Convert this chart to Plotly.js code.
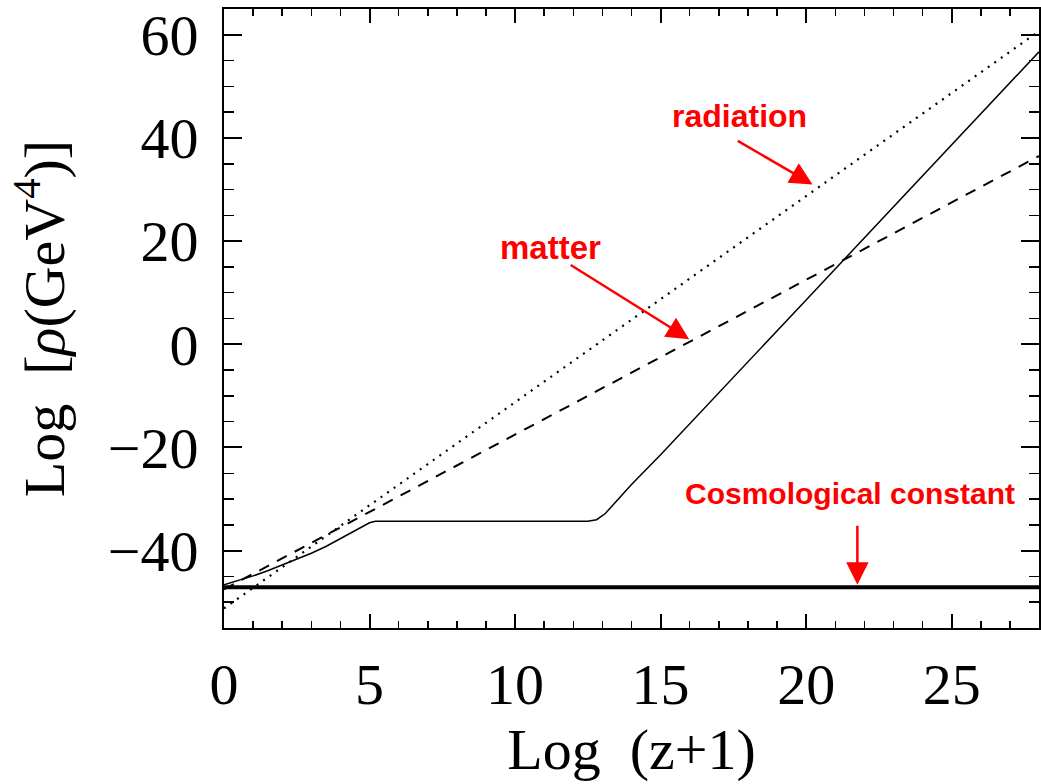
<!DOCTYPE html>
<html>
<head>
<meta charset="utf-8">
<script src="https://cdn.plot.ly/plotly-3.0.1.min.js"></script>
<style>html,body{margin:0;padding:0;background:#fff;}#chart{width:1041px;height:784px;}</style>
</head>
<body>
<div id="chart"></div>
<script>
// Values
const xRadiation = [0, 5, 10, 15, 20, 25, 28];
const yRadiation = [-51.2, -31.2, -11.2, 8.7, 28.8, 48.8, 60.7];

const xMatter = [0, 5, 10, 15, 20, 25, 28];
const yMatter = [-47.5, -32.5, -17.5, -2.5, 12.5, 27.5, 36.5];

const xQuint = [0, 0.5, 1, 1.5, 2, 2.5, 3, 3.5, 4, 4.5, 5, 5.2, 8, 10, 12.5, 12.8, 13.1, 14, 15, 20, 25, 28];
const yQuint = [-46.6, -45.8, -44.9, -43.9, -42.8, -41.7, -40.5, -39.2, -37.7, -36.1, -34.6, -34.3, -34.3, -34.3, -34.3, -34.0, -32.8, -27.2, -21.4, 8.6, 38.6, 56.7];

const xLambda = [0, 28];
const yLambda = [-47.1, -47.1];

const xTickVals = [0, 5, 10, 15, 20, 25];
const yTickVals = [-40, -20, 0, 20, 40, 60];

const labelTexts = ["radiation", "matter", "Cosmological constant"];

const serif = "Liberation Serif, DejaVu Serif, serif";
const sans = "Liberation Sans, Arial, sans-serif";
const NB = "\u00a0";

const traces = [
  {x: xRadiation, y: yRadiation, mode: 'lines', line: {color: 'black', width: 2.2, dash: '2px,6px'}, hoverinfo: 'skip'},
  {x: xMatter, y: yMatter, mode: 'lines', line: {color: 'black', width: 2, dash: '11px,9px'}, hoverinfo: 'skip'},
  {x: xQuint, y: yQuint, mode: 'lines', line: {color: 'black', width: 1.5}, hoverinfo: 'skip'},
  {x: xLambda, y: yLambda, mode: 'lines', line: {color: 'black', width: 4}, hoverinfo: 'skip'}
];

const axisCommon = {
  showgrid: false, zeroline: false, showline: true, linecolor: 'black', linewidth: 2,
  mirror: 'ticks', ticks: 'inside', tickcolor: 'black', tickwidth: 2,
  tickfont: {family: serif, size: 58, color: 'black'}
};

const layout = {
  width: 1041, height: 784,
  margin: {l: 224, r: 2, t: 9, b: 156},
  paper_bgcolor: 'white', plot_bgcolor: 'white',
  showlegend: false,
  xaxis: Object.assign({}, axisCommon, {
    range: [0, 28], tickvals: xTickVals, ticklen: 14, ticklabelstandoff: 4,
    minor: {dtick: 1, tick0: 0, ticks: 'inside', ticklen: 7, tickcolor: 'black', tickwidth: 1.5},
    title: {text: 'Log' + NB + NB + '(z+1)', font: {family: serif, size: 58, color: 'black'}, standoff: 0}
  }),
  yaxis: Object.assign({}, axisCommon, {
    range: [-55, 65], tickvals: yTickVals, ticklen: 18, ticklabelstandoff: 12,
    minor: {dtick: 5, tick0: 0, ticks: 'inside', ticklen: 10, tickcolor: 'black', tickwidth: 1.5},
    title: {text: 'Log' + NB + NB + '[<i>ρ</i>(GeV<sup>4</sup>)]', font: {family: serif, size: 58, color: 'black'}, standoff: 24}
  }),
  annotations: [
    {x: 17.7, y: 44.3, xref: 'x', yref: 'y', text: '<b>' + labelTexts[0] + '</b>', showarrow: false,
     font: {family: sans, size: 32, color: '#ff0000'}},
    {x: 11.23, y: 18.8, xref: 'x', yref: 'y', text: '<b>' + labelTexts[1] + '</b>', showarrow: false,
     font: {family: sans, size: 33, color: '#ff0000'}},
    {x: 21.5, y: -28.9, xref: 'x', yref: 'y', text: '<b>' + labelTexts[2] + '</b>', showarrow: false,
     font: {family: sans, size: 30, color: '#ff0000'}},
    {x: 20.22, y: 31.0, ax: 17.6, ay: 39.6, xref: 'x', yref: 'y', axref: 'x', ayref: 'y', text: '',
     showarrow: true, arrowhead: 2, arrowsize: 1.8, arrowwidth: 2.5, arrowcolor: '#ff0000'},
    {x: 15.98, y: 1.0, ax: 11.86, ay: 15.56, xref: 'x', yref: 'y', axref: 'x', ayref: 'y', text: '',
     showarrow: true, arrowhead: 2, arrowsize: 1.8, arrowwidth: 2.5, arrowcolor: '#ff0000'},
    {x: 21.76, y: -46.6, ax: 21.76, ay: -34.9, xref: 'x', yref: 'y', axref: 'x', ayref: 'y', text: '',
     showarrow: true, arrowhead: 2, arrowsize: 1.8, arrowwidth: 2.5, arrowcolor: '#ff0000'}
  ]
};

Plotly.newPlot('chart', traces, layout, {displayModeBar: false, staticPlot: true});
</script>
</body>
</html>
